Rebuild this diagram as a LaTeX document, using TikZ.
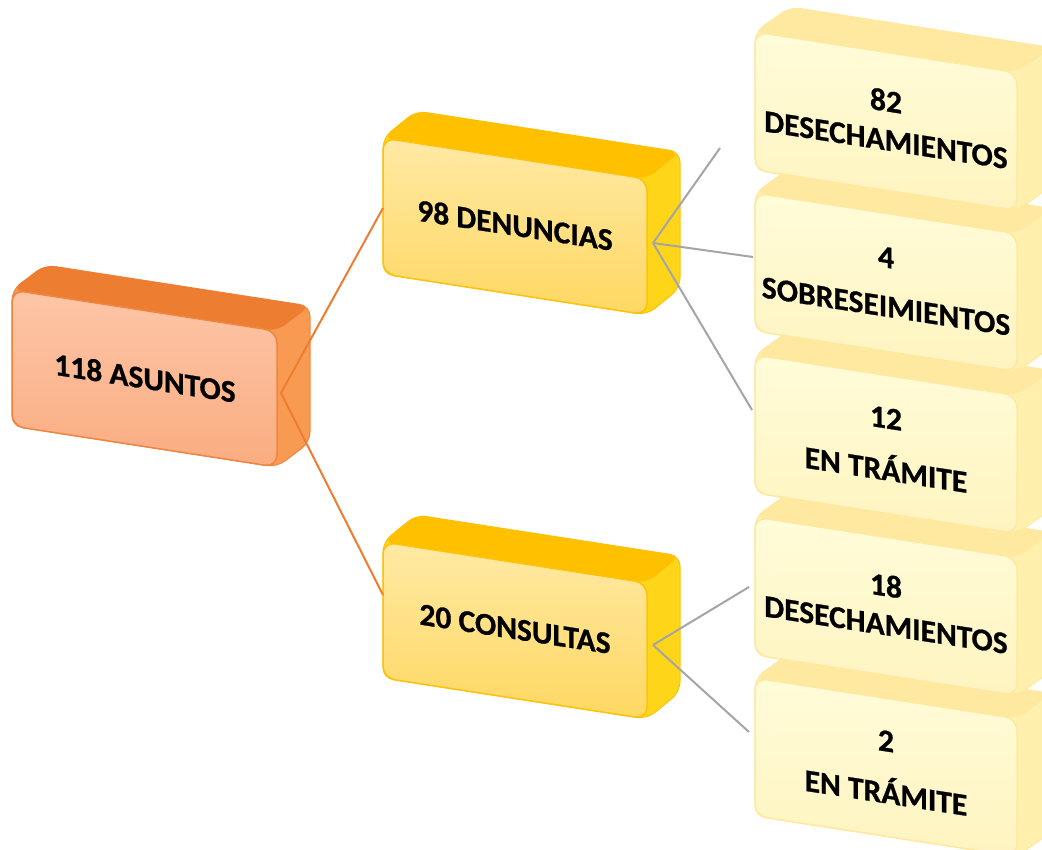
\documentclass[tikz,border=0pt]{standalone}
\usepackage{fontspec}
\setmainfont{Carlito}[BoldFeatures={FakeBold=0.8}]
\definecolor{orTop}{HTML}{ED7D31}
\definecolor{orSide}{HTML}{F89A52}
\definecolor{orFT}{HTML}{FDC6A8}
\definecolor{orFB}{HTML}{FAAC80}
\definecolor{orLine}{HTML}{EF8640}
\definecolor{yeTop}{HTML}{FFC000}
\definecolor{yeSide}{HTML}{FFD51A}
\definecolor{yeFT}{HTML}{FFE9A4}
\definecolor{yeFB}{HTML}{FFD862}
\definecolor{yeLine}{HTML}{FFC20A}
\definecolor{lyTop}{HTML}{FFE8A0}
\definecolor{lySide}{HTML}{FFF0AE}
\definecolor{lyFT}{HTML}{FFFCD9}
\definecolor{lyFB}{HTML}{FFF4C0}
\definecolor{lyLine}{HTML}{FFE8A0}
\definecolor{grLine}{HTML}{A5A5A5}
\tikzset{
  or sil/.style={fill=orSide, draw=orLine, line width=1pt, rounded corners=10pt},
  or top/.style={fill=orTop, rounded corners=10pt},
  or front/.style={top color=orFT, bottom color=orFB, draw=orLine, line width=1.5pt, rounded corners=12pt},
  ye sil/.style={fill=yeSide, draw=yeLine, line width=1pt, rounded corners=10pt},
  ye top/.style={fill=yeTop, rounded corners=10pt},
  ye front/.style={top color=yeFT, bottom color=yeFB, draw=yeLine, line width=1.5pt, rounded corners=12pt},
  ly sil/.style={fill=lySide, draw=lyLine, line width=1pt, rounded corners=10pt},
  ly top/.style={fill=lyTop, rounded corners=10pt},
  ly front/.style={top color=lyFT, bottom color=lyFB, draw=lyLine, line width=1.5pt, rounded corners=12pt},
  boxtext/.style={font=\bfseries\fontsize{31.5}{39}\selectfont, align=center, yslant=-0.155, inner sep=0pt, text=black},
  orlink/.style={draw=orTop, line width=2pt},
  grlink/.style={draw=grLine, line width=2pt},
}
\newcommand\bxs{0.155}
% #1 x, #2 y, #3 w, #4 h, #5 dx, #6 dy, #7 prefix
\newcommand\drawbox[7]{%
  \path[#7 sil] (#1,#2) -- ({#1+#5},{#2+#6}) -- ({#1+#3+#5},{#2+#3*\bxs+#6})
     -- ({#1+#3+#5},{#2+#3*\bxs+#4+#6}) -- ({#1+#3},{#2+#3*\bxs+#4}) -- (#1,{#2+#4}) -- cycle;
  \path[#7 top] (#1,#2) -- ({#1+#5},{#2+#6}) -- ({#1+#3+#5},{#2+#3*\bxs+#6}) -- ({#1+#3},{#2+#3*\bxs}) -- cycle;
  \path[#7 front] (#1,#2) -- ({#1+#3},{#2+#3*\bxs}) -- ({#1+#3},{#2+#3*\bxs+#4}) -- (#1,{#2+#4}) -- cycle;
}
\begin{document}
\begin{tikzpicture}[x=1pt,y=-1pt]
\clip (0,0) rectangle (1042,850);
\fill[white] (0,0) rectangle (1042,850);
% level 1
\drawbox{12}{290}{265}{136}{33}{-25}{or}
\node[boxtext] (asuntos) at (145,378) {118 ASUNTOS};
% level 2
\drawbox{383}{138}{264}{136}{33}{-27}{ye}
\node[boxtext] (denuncias) at (515,225) {98 DENUNCIAS};
\drawbox{383}{542}{264}{136}{33}{-27}{ye}
\node[boxtext] (consultas) at (515,629) {20 CONSULTAS};
% level 3 (bottom first)
\drawbox{755}{678}{262}{138}{35}{-25}{ly}
\node[boxtext] (t2) at (886,767) {2\\[13pt]EN TRÁMITE};
\drawbox{755}{517}{262}{138}{35}{-25}{ly}
\node[boxtext] (d18) at (886,605) {18\\DESECHAMIENTOS};
\drawbox{755}{355}{262}{138}{35}{-25}{ly}
\node[boxtext] (t12) at (886,444) {12\\[13pt]EN TRÁMITE};
\drawbox{755}{193}{262}{138}{35}{-25}{ly}
\node[boxtext] (s4) at (886,282) {4\\[10pt]SOBRESEIMIENTOS};
\drawbox{755}{32}{262}{138}{35}{-25}{ly}
\node[boxtext] (d82) at (886,120) {82\\DESECHAMIENTOS};
% connector ends
\coordinate (asR) at (281,393);
\coordinate (deL) at (383,208);
\coordinate (coL) at (383,595);
\coordinate (deR) at (653,243);
\coordinate (coR) at (653,645);
\coordinate (d82L) at (720,148);
\coordinate (s4L) at (753,257);
\coordinate (t12L) at (752,410);
\coordinate (d18L) at (749,587);
\coordinate (t2L) at (749,732);
\draw[orlink] (deL) -- (asR) -- (coL);
\draw[grlink] (deR) -- (d82L);
\draw[grlink] (deR) -- (s4L);
\draw[grlink] (deR) -- (t12L);
\draw[grlink] (coR) -- (d18L);
\draw[grlink] (coR) -- (t2L);
\end{tikzpicture}
\end{document}
